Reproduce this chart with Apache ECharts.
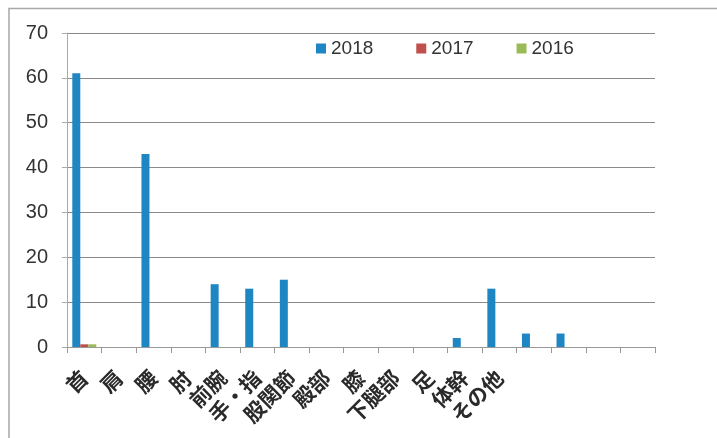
<!DOCTYPE html>
<html><head><meta charset="utf-8">
<script src="https://cdn.jsdelivr.net/npm/echarts@6/dist/echarts.min.js"></script>
<style>html,body{margin:0;padding:0;background:#fff}#c{width:717px;height:438px}</style>
</head><body><div id="c"></div>
<script>
const categories = ['首','肩','腰','肘','前腕','手・指','股関節','殿部','膝','下腿部','足','体幹','その他','','','',''];
const s2018 = [61,0,43,0,14,13,15,0,0,0,0,2,13,3,3,0,0];
const s2017 = [0.6,0,0,0,0,0,0,0,0,0,0,0,0,0,0,0,0];
const s2016 = [0.6,0,0,0,0,0,0,0,0,0,0,0,0,0,0,0,0];
const yTicks = [0,10,20,30,40,50,60,70];

const chart = echarts.init(document.getElementById('c'));
const numFont = '"Liberation Sans", "Open Sans", sans-serif';
chart.setOption({
  animation: false,
  graphic: [{
    type: 'polyline',
    shape: { points: [[9, 440], [9, 8.5], [720, 8.5]] },
    style: { stroke: '#a8a8a8', lineWidth: 1.5, fill: null }
  }],
  legend: {
    top: 34, left: 311, itemGap: 43,
    itemWidth: 10, itemHeight: 10, icon: 'rect',
    textStyle: { fontFamily: numFont, fontSize: 19, color: '#333' },
    data: ['2018','2017','2016']
  },
  grid: { left: 67, right: 62, top: 33, bottom: 91, containLabel: false },
  xAxis: {
    type: 'category', data: categories, boundaryGap: true,
    axisLine: { lineStyle: { color: '#999', width: 1 } },
    axisTick: { show: true, length: 6, lineStyle: { color: '#999' } },
    axisLabel: { interval: 0, rotate: 45, margin: 27, fontFamily: '"Noto Sans CJK JP", sans-serif', fontSize: 21, fontWeight: 'bold', color: '#2a2a2a' }
  },
  yAxis: {
    type: 'value', min: 0, max: 70, interval: 10,
    axisLine: { show: true, lineStyle: { color: '#aaa' } },
    axisTick: { show: true, length: 5, lineStyle: { color: '#aaa' } },
    axisLabel: { margin: 19, fontFamily: numFont, fontSize: 20, color: '#333',
      formatter: v => yTicks.includes(v) ? String(v) : '' },
    splitLine: { lineStyle: { color: '#8a8a8a', width: 1 } }
  },
  series: [
    { name: '2018', type: 'bar', data: s2018, itemStyle: { color: '#1f86c4' }, barWidth: 8, barGap: '0%', barCategoryGap: '30%' },
    { name: '2017', type: 'bar', data: s2017, itemStyle: { color: '#c0504d' }, barWidth: 8 },
    { name: '2016', type: 'bar', data: s2016, itemStyle: { color: '#9bbb59' }, barWidth: 8 }
  ]
});
</script></body></html>
